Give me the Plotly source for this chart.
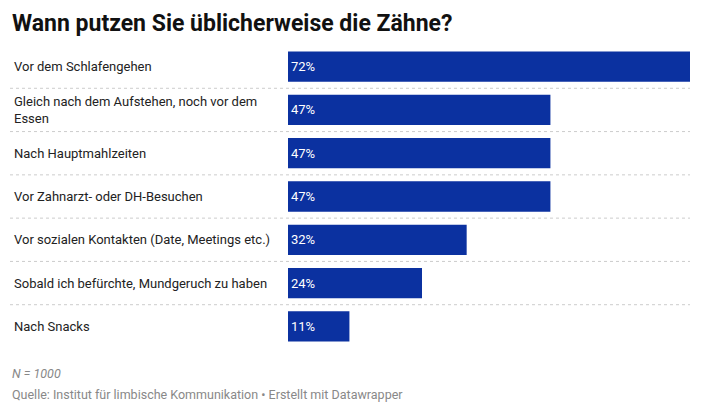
import plotly.graph_objects as go

categories = [
    "Vor dem Schlafengehen",
    "Gleich nach dem Aufstehen, noch vor dem<br>Essen",
    "Nach Hauptmahlzeiten",
    "Vor Zahnarzt- oder DH-Besuchen",
    "Vor sozialen Kontakten (Date, Meetings etc.)",
    "Sobald ich befürchte, Mundgeruch zu haben",
    "Nach Snacks",
]
values = [72, 47, 47, 47, 32, 24, 11]
labels = [f"{v}%" for v in values]

W, H = 702, 412
top_px, bot_px = 45, 348
idx = list(range(len(categories)))

fig = go.Figure(go.Bar(
    x=values, y=idx, orientation="h",
    marker=dict(color="#0b31a0", line=dict(width=0)),
    width=0.7,
    text=labels, textposition="inside", insidetextanchor="start",
    textfont=dict(color="white", size=13, family="Roboto"),
    hoverinfo="skip",
))

for i, c in enumerate(categories):
    fig.add_annotation(x=12 / W, xref="paper", y=i, yref="y", text=c,
                       showarrow=False, xanchor="left", yanchor="middle", align="left",
                       font=dict(size=13, color="#222", family="Roboto"))
for i in range(len(categories) - 1):
    fig.add_shape(type="line", xref="paper", yref="y", x0=10 / W, x1=690 / W,
                  y0=i + 0.5, y1=i + 0.5, line=dict(color="#cccccc", width=1, dash="dot"))

fig.add_annotation(x=10 / W, y=1 - 24 / H, xref="paper", yref="paper", showarrow=False,
                   xanchor="left", yanchor="middle",
                   text="<b>Wann putzen Sie üblicherweise die Zähne?</b>",
                   font=dict(size=23, color="#111", family="Roboto"))
fig.add_annotation(x=10 / W, y=1 - 373 / H, xref="paper", yref="paper", showarrow=False,
                   xanchor="left", yanchor="middle", text="<i>N = 1000</i>",
                   font=dict(size=12.5, color="#888", family="Roboto"))
fig.add_annotation(x=10 / W, y=1 - 394 / H, xref="paper", yref="paper", showarrow=False,
                   xanchor="left", yanchor="middle",
                   text="Quelle: Institut für limbische Kommunikation • Erstellt mit Datawrapper",
                   font=dict(size=12.5, color="#888", family="Roboto"))

fig.update_layout(
    width=W, height=H, margin=dict(l=0, r=0, t=0, b=0),
    paper_bgcolor="white", plot_bgcolor="white", showlegend=False,
    font=dict(family="Roboto"),
    xaxis=dict(domain=[288 / W, 690 / W], range=[0, 72], visible=False, fixedrange=True),
    yaxis=dict(domain=[1 - bot_px / H, 1 - top_px / H], range=[6.5, -0.5],
               visible=False, fixedrange=True),
)
fig.write_html("out.html", config={"displayModeBar": False},
               post_script="document.body.style.margin='0';document.body.style.overflow='hidden';")
